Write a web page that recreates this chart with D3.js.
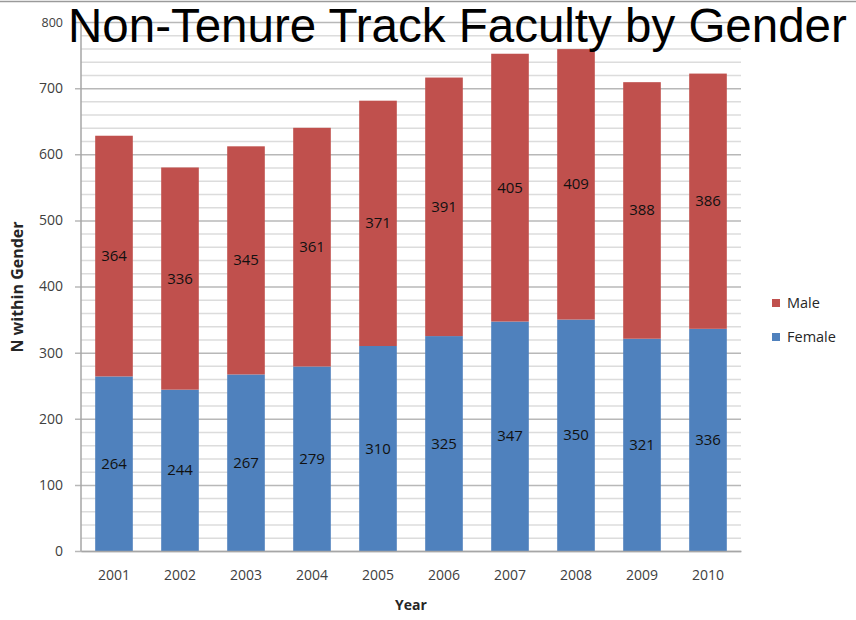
<!DOCTYPE html>
<html>
<head>
<meta charset="utf-8">
<script src="https://cdn.jsdelivr.net/npm/d3@7"></script>
<style>
  body { margin: 0; background: #fff; }
  svg { display: block; }
</style>
</head>
<body>
<svg id="chart" width="856" height="620"></svg>
<script>
// data
const years = ["2001", "2002", "2003", "2004", "2005", "2006", "2007", "2008", "2009", "2010"];
const female = [264, 244, 267, 279, 310, 325, 347, 350, 321, 336];
const male = [364, 336, 345, 361, 371, 391, 405, 409, 388, 386];
const seriesNames = ["Female", "Male"];
const yTicks = [0, 100, 200, 300, 400, 500, 600, 700, 800];

const colors = { Female: "#4F81BD", Male: "#C0504D" };
const margin = { top: 22, right: 115, bottom: 69, left: 81 };
const W = 856, H = 620;
const width = W - margin.left - margin.right;
const height = H - margin.top - margin.bottom;
const font = "'Open Sans', 'Liberation Sans', sans-serif";

const svg = d3.select("#chart");
const g = svg.append("g").attr("transform", `translate(${margin.left},${margin.top})`);

// top frame line
svg.append("line").attr("x1", 0).attr("x2", W).attr("y1", 1.5).attr("y2", 1.5)
    .attr("stroke", "#9a9a9a").attr("stroke-width", 1.5);

const x = d3.scaleBand().domain(years).range([0, width]).paddingInner(0.43).paddingOuter(0.215);
const y = d3.scaleLinear().domain([0, 800]).range([height, 0]);

// minor gridlines every 20
const minor = d3.range(20, 800, 20).filter(v => v % 100 !== 0);
g.append("g").selectAll("line").data(minor).enter().append("line")
    .attr("x1", 0).attr("x2", width)
    .attr("y1", d => y(d) + 0.5).attr("y2", d => y(d) + 0.5)
    .attr("stroke", "#dcdcdc").attr("stroke-width", 1.5);

// major gridlines + axis
const yAxis = g.append("g")
    .call(d3.axisLeft(y).tickValues(yTicks).tickSize(-width).tickPadding(18).tickFormat(d3.format("d")));
yAxis.select(".domain").remove();
yAxis.selectAll(".tick line").attr("stroke", "#b8b8b8").attr("stroke-width", 1.5).attr("x1", -6);
yAxis.selectAll(".tick text")
    .attr("fill", "#404040")
    .style("font-family", font)
    .style("font-size", d => d === 800 ? "12.5px" : "14px");

// stacked bars
const rows = years.map((yr, i) => ({ year: yr, Female: female[i], Male: male[i] }));
const stacked = d3.stack().keys(seriesNames)(rows);

g.append("g").selectAll("g").data(stacked).enter().append("g")
    .attr("fill", d => colors[d.key])
    .selectAll("rect").data(d => d).enter().append("rect")
    .attr("x", d => x(d.data.year))
    .attr("y", d => y(d[1]))
    .attr("width", x.bandwidth())
    .attr("height", d => y(d[0]) - y(d[1]));

// value labels
g.append("g").selectAll("g").data(stacked).enter().append("g")
    .selectAll("text").data(d => d.map(v => ({ v: v, key: d.key }))).enter().append("text")
    .attr("x", d => x(d.v.data.year) + x.bandwidth() / 2)
    .attr("y", d => y((d.v[0] + d.v[1]) / 2) + 5)
    .attr("text-anchor", "middle")
    .attr("fill", "#111")
    .style("font-family", font)
    .style("font-size", "15px")
    .text(d => d.v.data[d.key]);

// left axis line
g.append("line").attr("x1", 0).attr("x2", 0).attr("y1", 0).attr("y2", height)
    .attr("stroke", "#a6a6a6").attr("stroke-width", 1.5);

// x axis
const xAxis = g.append("g").attr("transform", `translate(0,${height})`)
    .call(d3.axisBottom(x).tickSize(0).tickPadding(19));
xAxis.select(".domain").attr("stroke", "#a6a6a6").attr("stroke-width", 1.5);
xAxis.selectAll(".tick text")
    .attr("fill", "#404040")
    .style("font-family", font)
    .style("font-size", "14px");

// axis titles
svg.append("text")
    .attr("x", margin.left + width / 2).attr("y", 610)
    .attr("text-anchor", "middle")
    .attr("fill", "#262626")
    .style("font-family", font)
    .style("font-weight", "bold").style("font-size", "14px")
    .text("Year");

svg.append("text")
    .attr("transform", "translate(23,287) rotate(-90)")
    .attr("text-anchor", "middle")
    .attr("fill", "#262626")
    .style("font-family", font)
    .style("font-weight", "bold").style("font-size", "16px")
    .text("N within Gender");

// legend
const legend = svg.append("g").attr("transform", "translate(772,296)");
["Male", "Female"].forEach((name, i) => {
    const row = legend.append("g").attr("transform", `translate(0,${i * 34})`);
    row.append("rect").attr("width", 8).attr("height", 8).attr("y", 3).attr("fill", colors[name]);
    row.append("text").attr("x", 15).attr("y", 12)
        .attr("fill", "#262626")
        .style("font-family", font)
        .style("font-size", "14.5px")
        .text(name);
});

// title
svg.append("text")
    .attr("x", 68).attr("y", 42)
    .attr("fill", "#000")
    .style("font-family", "'Liberation Sans', Arial, sans-serif")
    .style("font-size", "47.5px")
    .text("Non-Tenure Track Faculty by Gender");
</script>
</body>
</html>
